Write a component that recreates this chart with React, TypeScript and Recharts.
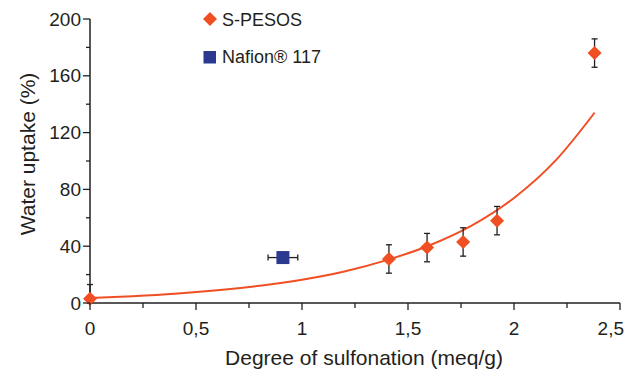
import { ComposedChart, Line, Scatter, ErrorBar, XAxis, YAxis, Label } from 'recharts';

const sPesosX = [0, 1.41, 1.59, 1.76, 1.92, 2.38];
const sPesosY = [3, 31, 39, 43, 58, 176];
const sPesosErrLow = [3, 10, 10, 10, 10, 10];
const sPesosErrHigh = [10, 10, 10, 10, 10, 10];

const nafionX = [0.91];
const nafionY = [32];
const nafionErrX = [0.07];

// fitted curve
const fitX = [0, 0.2, 0.4, 0.6, 0.8, 1.0, 1.2, 1.4, 1.6, 1.8, 2.0, 2.2, 2.38];
const fitY = [3.5, 4.8, 6.5, 8.9, 12.1, 16.4, 22.2, 30.2, 40.5, 54.5, 74, 101, 134];

const xTicks = [0, 0.25, 0.5, 0.75, 1, 1.25, 1.5, 1.75, 2, 2.25, 2.5];
const yTicks = [0, 20, 40, 60, 80, 100, 120, 140, 160, 180, 200];

const ORANGE = '#F04F23';
const BLUE = '#2B3990';
const INK = '#231F20';
const FONT = '"Liberation Sans", Arial, sans-serif';

const sPesos = sPesosX.map((x, i) => ({ x, y: sPesosY[i], err: [sPesosErrLow[i], sPesosErrHigh[i]] }));
const nafion = nafionX.map((x, i) => ({ x, y: nafionY[i], ex: nafionErrX[i] }));
const fit = fitX.map((x, i) => ({ x, y: fitY[i] }));

const XTick = ({ x, y, payload, index }: any) => {
  const v = payload.value;
  const major = Math.abs(v * 2 - Math.round(v * 2)) < 1e-6;
  const last = index === xTicks.length - 1;
  return (
    <g>
      <line x1={x} y1={y} x2={x} y2={y + (major ? 7 : 5)} stroke={INK} strokeWidth={1.3} />
      {major && (
        <text
          x={last ? x + 4 : x}
          y={y + 32}
          textAnchor={last ? 'end' : 'middle'}
          fontSize={19}
          fill={INK}
          fontFamily={FONT}
        >
          {String(v).replace('.', ',')}
        </text>
      )}
    </g>
  );
};

const YTick = ({ x, y, payload }: any) => {
  const v = payload.value;
  const major = v % 40 === 0;
  return (
    <g>
      <line x1={x} y1={y} x2={x - (major ? 7 : 4)} y2={y} stroke={INK} strokeWidth={1.3} />
      {major && (
        <text x={x - 9} y={y + 6.5} textAnchor="end" fontSize={19} fill={INK} fontFamily={FONT}>
          {v}
        </text>
      )}
    </g>
  );
};

const Diamond = ({ cx, cy }: any) => (
  <polygon points={`${cx},${cy - 7} ${cx + 7},${cy} ${cx},${cy + 7} ${cx - 7},${cy}`} fill={ORANGE} />
);

const Square = ({ cx, cy }: any) => <rect x={cx - 6.5} y={cy - 6.5} width={13} height={13} fill={BLUE} />;

const LegendBox = () => (
  <svg
    width={200}
    height={75}
    style={{ position: 'absolute', left: 200, top: 5, display: 'block', pointerEvents: 'none' }}
  >
    <polygon points="10,7 17,14 10,21 3,14" fill={ORANGE} />
    <text x={22} y={21} fontSize={18} fill={INK} fontFamily={FONT}>S-PESOS</text>
    <rect x={3.5} y={46} width={12.5} height={12.5} fill={BLUE} />
    <text x={22} y={58} fontSize={18} fill={INK} fontFamily={FONT}>Nafion® 117</text>
  </svg>
);

export default function App() {
  return (
    <div style={{ position: 'absolute', left: 0, top: 0, width: 625, height: 371, background: '#fff' }}>
      <ComposedChart width={625} height={371} margin={{ top: 19, right: 5, left: 0, bottom: 0 }}>
        <XAxis
          dataKey="x"
          type="number"
          domain={[0, 2.5]}
          ticks={xTicks}
          interval={0}
          height={68}
          tickSize={0}
          tickMargin={0}
          tickLine={false}
          axisLine={{ stroke: INK, strokeWidth: 1.5 }}
          tick={<XTick />}
        >
          <Label
            content={({ viewBox }: any) => (
              <text
                x={viewBox.x + viewBox.width / 2 + 9}
                y={viewBox.y + 62}
                textAnchor="middle"
                fontSize={21}
                fill={INK}
                fontFamily={FONT}
              >
                Degree of sulfonation (meq/g)
              </text>
            )}
          />
        </XAxis>
        <YAxis
          dataKey="y"
          type="number"
          domain={[0, 200]}
          ticks={yTicks}
          interval={0}
          width={90}
          tickSize={0}
          tickMargin={0}
          tickLine={false}
          axisLine={{ stroke: INK, strokeWidth: 1.5 }}
          tick={<YTick />}
        >
          <Label
            content={({ viewBox }: any) => {
              const cx = 27;
              const cy = viewBox.y + viewBox.height / 2 - 7;
              return (
                <text
                  x={cx}
                  y={cy}
                  transform={`rotate(-90 ${cx} ${cy})`}
                  textAnchor="middle"
                  dominantBaseline="central"
                  fontSize={21}
                  fill={INK}
                  fontFamily={FONT}
                >
                  Water uptake (%)
                </text>
              );
            }}
          />
        </YAxis>
        <Line
          data={fit}
          dataKey="y"
          type="monotone"
          stroke={ORANGE}
          strokeWidth={2}
          dot={false}
          activeDot={false}
          isAnimationActive={false}
          legendType="none"
        />
        <Scatter data={nafion} dataKey="y" name="Nafion® 117" shape={<Square />} isAnimationActive={false}>
          <ErrorBar dataKey="ex" direction="x" width={3} stroke={INK} strokeWidth={1.3} />
        </Scatter>
        <Scatter data={sPesos} dataKey="y" name="S-PESOS" shape={<Diamond />} isAnimationActive={false}>
          <ErrorBar dataKey="err" direction="y" width={3} stroke={INK} strokeWidth={1.3} />
        </Scatter>
      </ComposedChart>
      <LegendBox />
    </div>
  );
}
